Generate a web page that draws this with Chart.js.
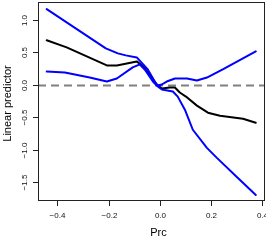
<!DOCTYPE html>
<html>
<head>
<meta charset="utf-8">
<script src="https://cdn.jsdelivr.net/npm/chart.js@4.4.1/dist/chart.umd.min.js"></script>
<style>
html,body{margin:0;padding:0;background:#fff;}
canvas{display:block;}
</style>
</head>
<body>
<canvas id="c" width="266" height="240"></canvas>
<script>
// ---- data ----
const upperX = [-0.442,-0.211,-0.164,-0.133,-0.090,-0.047,-0.020,-0.008,0.008,0.027,0.059,0.106,0.145,0.184,0.246,0.375];
const upperY = [1.17,0.564,0.486,0.455,0.424,0.238,0.051,-0.011,0.005,0.051,0.098,0.098,0.067,0.113,0.238,0.517];

const fitX = [-0.442,-0.364,-0.207,-0.168,-0.090,-0.070,-0.039,-0.012,0.008,0.039,0.059,0.078,0.102,0.145,0.188,0.235,0.325,0.375];
const fitY = [0.688,0.579,0.300,0.300,0.362,0.300,0.160,0.005,-0.057,-0.042,-0.042,-0.119,-0.181,-0.321,-0.430,-0.477,-0.523,-0.585];

const lowerX = [-0.442,-0.371,-0.274,-0.207,-0.168,-0.106,-0.078,-0.059,-0.027,-0.008,0.008,0.051,0.070,0.098,0.129,0.184,0.223,0.301,0.375];
const lowerY = [0.207,0.191,0.113,0.051,0.098,0.269,0.315,0.238,0.051,-0.026,-0.073,-0.104,-0.182,-0.384,-0.694,-0.974,-1.129,-1.424,-1.703];

const xTickVals = [-0.4,-0.2,0,0.2,0.4];
const yTickVals = [-1.5,-1,-0.5,0,0.5,1];
const refValue = 0;
const xTitle = "Prc";
const yTitle = "Linear predictor";

const toPts = (xs, ys) => xs.map((x, i) => ({x: x, y: ys[i]}));
const fmt = v => (v < 0 ? "\u2212" : "") + Math.abs(v).toFixed(1);
const FONT = '"Liberation Sans", Arial, sans-serif';

const custom = {
  id: 'custom',
  beforeDatasetsDraw(chart) {
    const ctx = chart.ctx, a = chart.chartArea, ys = chart.scales.y;
    const py = Math.round(ys.getPixelForValue(refValue)) + 0.5;
    ctx.save();
    ctx.beginPath();
    ctx.rect(a.left, a.top, a.right - a.left, a.bottom - a.top);
    ctx.clip();
    ctx.strokeStyle = '#808080';
    ctx.lineWidth = 2;
    ctx.setLineDash([8, 5]);
    ctx.beginPath();
    ctx.moveTo(a.left, py);
    ctx.lineTo(a.right, py);
    ctx.stroke();
    ctx.restore();
  },
  afterDraw(chart) {
    const ctx = chart.ctx, a = chart.chartArea, xs = chart.scales.x, ys = chart.scales.y;
    ctx.save();
    ctx.strokeStyle = '#222';
    ctx.lineWidth = 1;
    ctx.strokeRect(a.left + 0.5, a.top + 0.5, a.right - a.left - 1, a.bottom - a.top - 1);
    ctx.fillStyle = '#111';
    ctx.font = '8px ' + FONT;
    // x ticks
    xs.ticks.forEach(t => {
      const px = Math.round(xs.getPixelForValue(t.value)) + 0.5;
      ctx.beginPath();
      ctx.moveTo(px, a.bottom);
      ctx.lineTo(px, a.bottom + 5);
      ctx.stroke();
      ctx.textAlign = 'center';
      ctx.textBaseline = 'middle';
      ctx.fillText(fmt(t.value), px, a.bottom + 15);
    });
    // y ticks
    ys.ticks.forEach(t => {
      const py = Math.round(ys.getPixelForValue(t.value)) + 0.5;
      ctx.beginPath();
      ctx.moveTo(a.left - 5, py);
      ctx.lineTo(a.left, py);
      ctx.stroke();
      ctx.save();
      ctx.translate(a.left - 13, py);
      ctx.rotate(-Math.PI / 2);
      ctx.textAlign = 'center';
      ctx.textBaseline = 'middle';
      ctx.fillText(fmt(t.value), 0, 0);
      ctx.restore();
    });
    // titles
    ctx.font = '11px ' + FONT;
    ctx.fillStyle = '#000';
    ctx.textAlign = 'center';
    ctx.textBaseline = 'middle';
    ctx.fillText(xTitle, (a.left + a.right) / 2 + 7, a.bottom + 32);
    ctx.save();
    ctx.translate(8, (a.top + a.bottom) / 2 + 2);
    ctx.rotate(-Math.PI / 2);
    ctx.fillText(yTitle, 0, 0);
    ctx.restore();
    ctx.restore();
  }
};

new Chart(document.getElementById('c'), {
  type: 'line',
  data: {
    datasets: [
      {data: toPts(upperX, upperY), borderColor: '#0000ff', borderWidth: 2},
      {data: toPts(lowerX, lowerY), borderColor: '#0000ff', borderWidth: 2},
      {data: toPts(fitX, fitY), borderColor: '#000000', borderWidth: 2}
    ]
  },
  options: {
    responsive: false,
    animation: false,
    devicePixelRatio: 1,
    layout: {padding: {top: 2, right: 1, left: 0, bottom: 0}},
    elements: {point: {radius: 0}, line: {tension: 0, borderCapStyle: 'round', borderJoinStyle: 'round', fill: false}},
    plugins: {legend: {display: false}, tooltip: {enabled: false}},
    scales: {
      x: {
        type: 'linear', min: -0.476, max: 0.411,
        grid: {display: false}, border: {display: false},
        ticks: {display: false},
        afterBuildTicks: s => { s.ticks = xTickVals.map(v => ({value: v})); },
        afterFit: s => { s.height = 39; }
      },
      y: {
        type: 'linear', min: -1.795, max: 1.28,
        grid: {display: false}, border: {display: false},
        ticks: {display: false},
        afterBuildTicks: s => { s.ticks = yTickVals.map(v => ({value: v})); },
        afterFit: s => { s.width = 38; }
      }
    }
  },
  plugins: [custom]
});
</script>
</body>
</html>
